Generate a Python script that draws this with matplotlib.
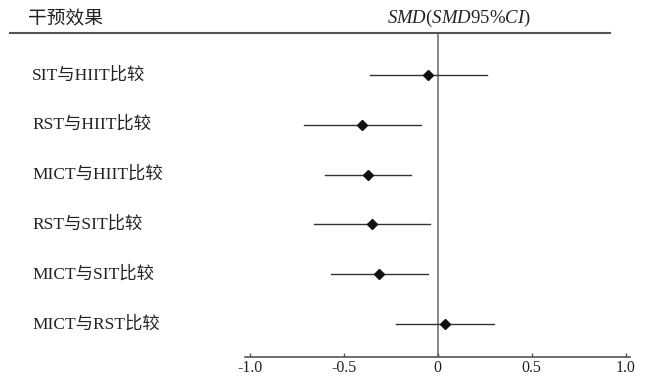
import matplotlib
matplotlib.use("Agg")
import matplotlib.pyplot as plt
from matplotlib.lines import Line2D
import matplotlib.transforms as mtransforms

labels = ["SIT与HIIT比较", "RST与HIIT比较", "MICT与HIIT比较",
          "RST与SIT比较", "MICT与SIT比较", "MICT与RST比较"]
smd = [-0.05, -0.40, -0.37, -0.35, -0.31, 0.04]
ci_low = [-0.36, -0.71, -0.60, -0.66, -0.57, -0.22]
ci_high = [0.26, -0.09, -0.14, -0.04, -0.05, 0.30]
xticks = [-1.0, -0.5, 0, 0.5, 1.0]
xticklabels = ["-1.0", "-0.5", "0", "0.5", "1.0"]

plt.rcParams['mathtext.fontset'] = 'custom'
plt.rcParams['mathtext.rm'] = 'Liberation Serif'
plt.rcParams['mathtext.it'] = 'Liberation Serif:italic'
fam = ['Liberation Serif', 'Noto Sans CJK SC']

W, H = 647, 377
fig = plt.figure(figsize=(W / 100, H / 100), dpi=100)
ax = fig.add_axes([245 / W, 20 / H, 385 / W, 324 / H])

ys = list(range(len(labels)))
for i, (m, lo, hi) in enumerate(zip(smd, ci_low, ci_high)):
    ax.plot([lo, hi], [i, i], color='#333333', lw=1.0, zorder=2)
ax.plot(smd, ys, linestyle='none', marker='D', ms=5.5, color='#111111', zorder=3)
ax.axvline(0, color='#7f7f7f', lw=1.3, zorder=1)

ax.set_xlim(-1.025, 1.023)
ax.set_ylim(5.66, -0.843)
for s in ['top', 'right', 'left']:
    ax.spines[s].set_visible(False)
ax.spines['bottom'].set_color('#555555')
ax.spines['bottom'].set_linewidth(1.2)
ax.set_yticks([])
ax.set_xticks(xticks)
ax.set_xticklabels(xticklabels, family=fam, fontsize=11.5, color='#222222')
ax.tick_params(axis='x', direction='in', length=3, width=1, color='#555555', pad=2)

trans = mtransforms.blended_transform_factory(fig.transFigure, ax.transData)
for i, lab in enumerate(labels):
    ax.text(32 / W, i, lab, transform=trans, family=fam,
            fontsize=12.5, color='#222222', va='center', ha='left')

fig.add_artist(Line2D([10 / W, 610 / W], [1 - 33 / H, 1 - 33 / H],
                      transform=fig.transFigure, color='#555555', lw=1.5))
fig.text(28 / W, 1 - 20 / H, "干预效果", family=fam, fontsize=13.5,
         color='#222222', va='center', ha='left')
fig.text(531 / W, 1 - 18 / H, r"$\mathit{SMD}(\mathit{SMD}95\%\mathit{CI})$",
         fontsize=13.5, color='#222222', va='center', ha='right')

fig.savefig("out.png", dpi=100)
